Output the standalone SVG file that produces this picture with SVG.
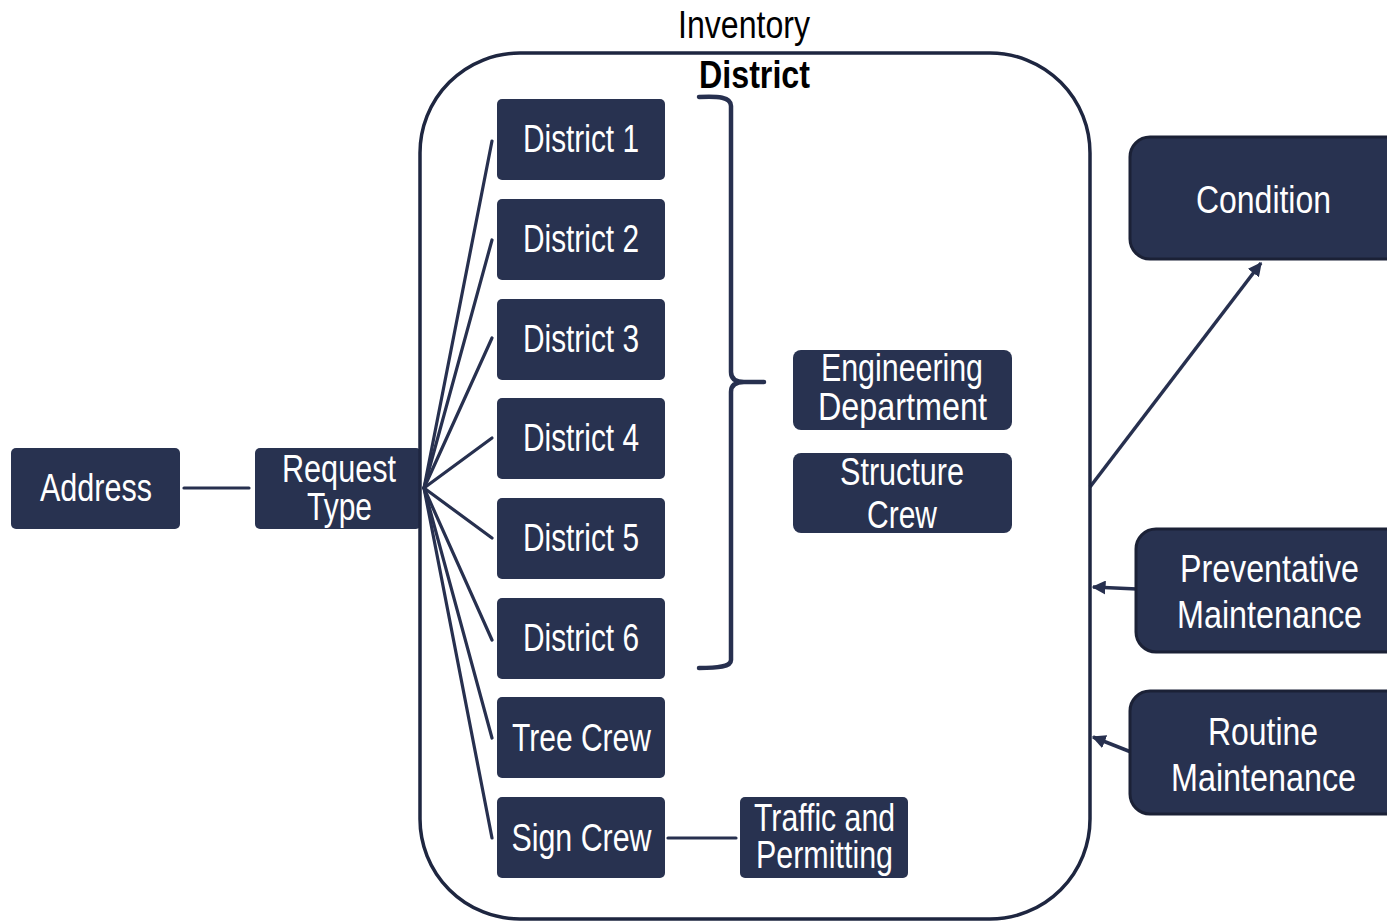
<svg xmlns="http://www.w3.org/2000/svg" width="1387" height="922" viewBox="0 0 1387 922">
<defs>
<style>
.box{fill:#283250;}
.bigbox{fill:#283250;stroke:#1b2136;stroke-width:3;}
.t{font-family:"Liberation Sans",Arial,sans-serif;font-size:38px;fill:#ffffff;text-anchor:middle;}
.lbl{font-family:"Liberation Sans",Arial,sans-serif;font-size:38px;fill:#000000;text-anchor:middle;}
.ln{stroke:#27304f;stroke-width:3.2;fill:none;stroke-linecap:round;}
.brace{stroke:#27304f;stroke-width:4.5;fill:none;stroke-linecap:round;stroke-linejoin:round;}
.arr{stroke:#27304f;stroke-width:3.5;fill:none;marker-end:url(#ah);}
</style>
<marker id="ah" viewBox="0 0 10 10" refX="9" refY="5" markerWidth="4" markerHeight="4" orient="auto" markerUnits="strokeWidth">
<path d="M0,0 L10,5 L0,10 Z" fill="#27304f"/>
</marker>
</defs>
<rect width="1387" height="922" fill="#ffffff"/>

<g id="connectors">
<line class="ln" x1="184" y1="488" x2="249" y2="488"/>
<line class="ln" x1="424" y1="488" x2="492" y2="141"/>
<line class="ln" x1="424" y1="488" x2="492" y2="240"/>
<line class="ln" x1="424" y1="488" x2="492" y2="338"/>
<line class="ln" x1="424" y1="488" x2="492" y2="438"/>
<line class="ln" x1="424" y1="488" x2="492" y2="538"/>
<line class="ln" x1="424" y1="488" x2="492" y2="640"/>
<line class="ln" x1="424" y1="488" x2="492" y2="738"/>
<line class="ln" x1="424" y1="488" x2="492" y2="838"/>
<line class="ln" x1="668" y1="838" x2="736" y2="838"/>
<path class="brace" d="M699,97 C718,96 731,97 731,106 L731,372 C731,379 736,382 744,382 L764,382 M744,382 C736,382 731,385 731,392 L731,660 C731,667 718,668 699,668"/>
<line class="arr" x1="1090" y1="487" x2="1261" y2="263"/>
<line class="arr" x1="1137" y1="589" x2="1093" y2="587"/>
<line class="arr" x1="1131" y1="752" x2="1093" y2="737"/>
</g>

<g id="address"><rect class="box" x="11" y="448" width="169" height="81" rx="5"/><text class="t" x="96" y="501" textLength="112" lengthAdjust="spacingAndGlyphs">Address</text></g>
<g id="request-type"><rect class="box" x="255" y="448" width="166" height="81" rx="5"/><text class="t" x="339" y="482" textLength="114" lengthAdjust="spacingAndGlyphs">Request</text><text class="t" x="339.5" y="520" textLength="65" lengthAdjust="spacingAndGlyphs">Type</text></g>

<g id="inventory">
<rect x="420" y="53" width="670" height="866" rx="100" fill="none" stroke="#1e2640" stroke-width="3.5"/>
<text class="lbl" x="744" y="38" textLength="132" lengthAdjust="spacingAndGlyphs">Inventory</text>
<text class="lbl" x="754.5" y="88" font-weight="bold" textLength="111" lengthAdjust="spacingAndGlyphs">District</text>
</g>

<g id="district-1"><rect class="box" x="497" y="99" width="168" height="81" rx="5"/><text class="t" x="581" y="152" textLength="116" lengthAdjust="spacingAndGlyphs">District 1</text></g>
<g id="district-2"><rect class="box" x="497" y="199" width="168" height="81" rx="5"/><text class="t" x="581" y="252" textLength="116" lengthAdjust="spacingAndGlyphs">District 2</text></g>
<g id="district-3"><rect class="box" x="497" y="299" width="168" height="81" rx="5"/><text class="t" x="581" y="352" textLength="116" lengthAdjust="spacingAndGlyphs">District 3</text></g>
<g id="district-4"><rect class="box" x="497" y="398" width="168" height="81" rx="5"/><text class="t" x="581" y="451" textLength="116" lengthAdjust="spacingAndGlyphs">District 4</text></g>
<g id="district-5"><rect class="box" x="497" y="498" width="168" height="81" rx="5"/><text class="t" x="581" y="551" textLength="116" lengthAdjust="spacingAndGlyphs">District 5</text></g>
<g id="district-6"><rect class="box" x="497" y="598" width="168" height="81" rx="5"/><text class="t" x="581" y="651" textLength="116" lengthAdjust="spacingAndGlyphs">District 6</text></g>
<g id="tree-crew"><rect class="box" x="497" y="697" width="168" height="81" rx="5"/><text class="t" x="581.5" y="751" textLength="139" lengthAdjust="spacingAndGlyphs">Tree Crew</text></g>
<g id="sign-crew"><rect class="box" x="497" y="797" width="168" height="81" rx="5"/><text class="t" x="581.5" y="851" textLength="140" lengthAdjust="spacingAndGlyphs">Sign Crew</text></g>

<g id="engineering-department"><rect class="box" x="793" y="350" width="219" height="80" rx="8"/><text class="t" x="902" y="381" textLength="162" lengthAdjust="spacingAndGlyphs">Engineering</text><text class="t" x="902.5" y="420" textLength="169" lengthAdjust="spacingAndGlyphs">Department</text></g>
<g id="structure-crew"><rect class="box" x="793" y="453" width="219" height="80" rx="8"/><text class="t" x="902" y="485" textLength="124" lengthAdjust="spacingAndGlyphs">Structure</text><text class="t" x="902" y="528" textLength="70" lengthAdjust="spacingAndGlyphs">Crew</text></g>
<g id="traffic-permitting"><rect class="box" x="740" y="797" width="168" height="81" rx="5"/><text class="t" x="824.5" y="831" textLength="141" lengthAdjust="spacingAndGlyphs">Traffic and</text><text class="t" x="824.5" y="868" textLength="137" lengthAdjust="spacingAndGlyphs">Permitting</text></g>

<g id="condition"><rect class="bigbox" x="1130" y="137" width="280" height="122" rx="20"/><text class="t" x="1263.5" y="213" textLength="135" lengthAdjust="spacingAndGlyphs">Condition</text></g>
<g id="preventative-maintenance"><rect class="bigbox" x="1136" y="529" width="280" height="123" rx="20"/><text class="t" x="1269.5" y="582" textLength="179" lengthAdjust="spacingAndGlyphs">Preventative</text><text class="t" x="1269.5" y="628" textLength="185" lengthAdjust="spacingAndGlyphs">Maintenance</text></g>
<g id="routine-maintenance"><rect class="bigbox" x="1130" y="691" width="280" height="123" rx="20"/><text class="t" x="1263" y="745" textLength="110" lengthAdjust="spacingAndGlyphs">Routine</text><text class="t" x="1263.5" y="791" textLength="185" lengthAdjust="spacingAndGlyphs">Maintenance</text></g>
</svg>
